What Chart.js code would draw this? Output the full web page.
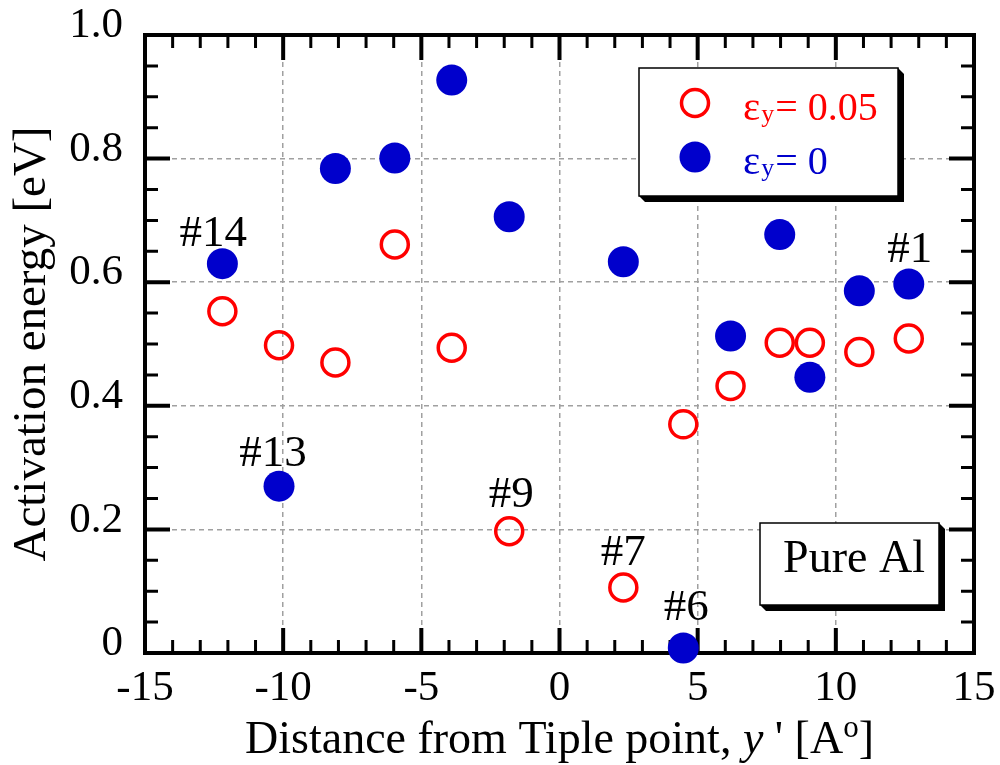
<!DOCTYPE html>
<html>
<head>
<meta charset="utf-8">
<script src="https://cdn.jsdelivr.net/npm/chart.js@4"></script>
<style>
  body { margin: 0; background: #fff; }
  #wrap { width: 1000px; height: 765px; }
</style>
</head>
<body>
<div id="wrap"><canvas id="chart"></canvas></div>
<script>
// distance from triple point y' [A], shared by both series
const positions = [-12.2, -10.15, -8.11, -5.96, -3.9, -1.82, 2.31, 4.48, 6.19, 7.97, 9.06, 10.85, 12.64];
// activation energy [eV], strain eps_y = 0.05 (open red)
const energyStrained = [0.553, 0.498, 0.470, 0.661, 0.494, 0.197, 0.106, 0.370, 0.432, 0.502, 0.502, 0.487, 0.509];
// activation energy [eV], eps_y = 0 (filled blue)
const energyRelaxed = [0.630, 0.270, 0.784, 0.801, 0.927, 0.706, 0.633, 0.008, 0.513, 0.677, 0.446, 0.586, 0.597];

const xTickLabels = ['-15', '-10', '-5', '0', '5', '10', '15'];
const yTickLabels = ['0', '0.2', '0.4', '0.6', '0.8', '1.0'];

// site numbers written next to some points
const tagTexts = ['#14', '#13', '#9', '#7', '#6', '#1'];
const tagSeries = [1, 1, 0, 0, 1, 1];
const tagIndex = [0, 1, 5, 6, 7, 12];

const RED = '#ff0000';
const BLUE = '#0000cc';
const SERIF = '"Liberation Serif", "Times New Roman", serif';

// small pixel nudges for the tags, in the order above
const tagShift = [[-9, -18], [-6, -20], [2, -24], [0, -22], [3, -28], [1, -22]];

function shadowBox(ctx, x, y, w, h) {
    const d = 6;
    ctx.fillStyle = '#000';
    ctx.beginPath();
    ctx.moveTo(x + w, y);
    ctx.lineTo(x + w + d, y + d);
    ctx.lineTo(x + w + d, y + h + d);
    ctx.lineTo(x + d, y + h + d);
    ctx.lineTo(x, y + h);
    ctx.closePath();
    ctx.fill();
    ctx.fillStyle = '#fff';
    ctx.fillRect(x, y, w, h);
    ctx.lineWidth = 1.5;
    ctx.strokeStyle = '#000';
    ctx.strokeRect(x, y, w, h);
}

const frameAndTicks = {
    id: 'frameAndTicks',
    beforeDatasetsDraw(chart) {
        const {ctx, chartArea: a, scales: {x, y}} = chart;
        ctx.save();
        ctx.strokeStyle = '#000';
        for (let v = x.min; v <= x.max; v++) {
            const px = x.getPixelForValue(v);
            const major = v % 5 === 0;
            const len = major ? 25 : 13;
            ctx.lineWidth = major ? 4 : 3;
            ctx.beginPath();
            ctx.moveTo(px, a.bottom);
            ctx.lineTo(px, a.bottom - len);
            ctx.moveTo(px, a.top);
            ctx.lineTo(px, a.top + len);
            ctx.stroke();
        }
        for (let i = 0; i <= 20; i++) {
            const py = y.getPixelForValue(i * 0.05);
            const major = i % 4 === 0;
            const len = major ? 25 : 13;
            ctx.lineWidth = major ? 4 : 3;
            ctx.beginPath();
            ctx.moveTo(a.left, py);
            ctx.lineTo(a.left + len, py);
            ctx.moveTo(a.right, py);
            ctx.lineTo(a.right - len, py);
            ctx.stroke();
        }
        ctx.lineWidth = 4;
        ctx.strokeRect(a.left, a.top, a.right - a.left, a.bottom - a.top);
        ctx.restore();
    }
};

const boxesAndTags = {
    id: 'boxesAndTags',
    afterDatasetsDraw(chart) {
        const {ctx, scales: {x, y}} = chart;
        ctx.save();

        // legend
        shadowBox(ctx, 639, 68, 259, 128);
        const rows = [
            {cy: 103, base: 120, color: RED, open: true, value: '= 0.05'},
            {cy: 157, base: 174, color: BLUE, open: false, value: '= 0'}
        ];
        rows.forEach(r => {
            ctx.beginPath();
            if (r.open) {
                ctx.arc(695, r.cy, 13.5, 0, Math.PI * 2);
                ctx.lineWidth = 3.5;
                ctx.strokeStyle = r.color;
                ctx.stroke();
            } else {
                ctx.arc(695, r.cy, 15.5, 0, Math.PI * 2);
                ctx.fillStyle = r.color;
                ctx.fill();
            }
            ctx.fillStyle = r.color;
            ctx.textBaseline = 'alphabetic';
            ctx.textAlign = 'left';
            let tx = 743;
            ctx.font = '41px ' + SERIF;
            ctx.fillText('\u03b5', tx, r.base);
            tx += ctx.measureText('\u03b5').width + 1;
            ctx.font = '26px ' + SERIF;
            ctx.fillText('y', tx, r.base + 2);
            tx += ctx.measureText('y').width + 1;
            ctx.font = '40px ' + SERIF;
            ctx.fillText(r.value, tx, r.base);
        });

        // material box
        shadowBox(ctx, 760, 523, 179, 82);
        ctx.fillStyle = '#000';
        ctx.font = '46px ' + SERIF;
        ctx.textAlign = 'center';
        ctx.fillText('Pure Al', 854, 572);

        // site tags
        ctx.font = '45px ' + SERIF;
        tagTexts.forEach((t, i) => {
            const vals = tagSeries[i] === 0 ? energyStrained : energyRelaxed;
            const k = tagIndex[i];
            const px = x.getPixelForValue(positions[k]) + tagShift[i][0];
            const py = y.getPixelForValue(vals[k]) + tagShift[i][1];
            ctx.fillText(t, px, py);
        });
        ctx.restore();
    },
    afterDraw(chart) {
        // x axis title with italic y and superscript o
        const {ctx, chartArea: a} = chart;
        const parts = [
            ['Distance from Tiple point, ', 'normal', 0],
            ['y', 'italic', 0],
            [" ' [A", 'normal', 0],
            ['o', 'sup', -16],
            [']', 'normal', 0]
        ];
        const fontOf = s => s === 'italic' ? 'italic 46px ' + SERIF : s === 'sup' ? '31px ' + SERIF : '46px ' + SERIF;
        ctx.save();
        ctx.fillStyle = '#000';
        ctx.textBaseline = 'alphabetic';
        ctx.textAlign = 'left';
        let total = 0;
        parts.forEach(p => { ctx.font = fontOf(p[1]); total += ctx.measureText(p[0]).width; });
        let tx = (a.left + a.right) / 2 - total / 2;
        parts.forEach(p => {
            ctx.font = fontOf(p[1]);
            ctx.fillText(p[0], tx, 753 + p[2]);
            tx += ctx.measureText(p[0]).width;
        });
        ctx.restore();
    }
};

const ctx = document.getElementById('chart').getContext('2d');

new Chart(ctx, {
    type: 'scatter',
    data: {
        datasets: [{
            label: '\u03b5y = 0.05',
            data: positions.map((p, i) => ({x: p, y: energyStrained[i]})),
            pointStyle: 'circle',
            pointRadius: 13.5,
            pointBorderWidth: 3.5,
            pointBorderColor: RED,
            pointBackgroundColor: 'rgba(0,0,0,0)',
            clip: false
        }, {
            label: '\u03b5y = 0',
            data: positions.map((p, i) => ({x: p, y: energyRelaxed[i]})),
            pointStyle: 'circle',
            pointRadius: 15.5,
            pointBorderWidth: 0,
            pointBorderColor: BLUE,
            pointBackgroundColor: BLUE,
            clip: false
        }]
    },
    options: {
        responsive: true,
        maintainAspectRatio: false,
        animation: false,
        events: [],
        layout: {padding: {top: 35, right: 26, bottom: 0, left: 0}},
        plugins: {
            legend: {display: false},
            tooltip: {enabled: false}
        },
        scales: {
            x: {
                type: 'linear',
                min: -15,
                max: 15,
                afterFit: s => {
                    s.height = 112;
                    s.paddingLeft = 0;
                    s.paddingRight = 0;
                },
                ticks: {
                    stepSize: 5,
                    autoSkip: false,
                    maxRotation: 0,
                    padding: 10,
                    color: '#000',
                    font: {family: SERIF, size: 43},
                    callback: (v, i) => xTickLabels[i]
                },
                grid: {color: '#a0a0a0', lineWidth: 1.5, drawTicks: false},
                border: {display: false, dash: [5, 4]}
            },
            y: {
                min: 0,
                max: 1,
                afterFit: s => {
                    s.width = 145;
                    s.paddingTop = 0;
                    s.paddingBottom = 0;
                },
                title: {
                    display: true,
                    text: 'Activation energy [eV]',
                    color: '#000',
                    font: {family: SERIF, size: 47},
                    padding: {top: 4, bottom: 0}
                },
                ticks: {
                    stepSize: 0.2,
                    padding: 22,
                    labelOffset: -9,
                    color: '#000',
                    font: {family: SERIF, size: 43},
                    callback: (v, i) => yTickLabels[i]
                },
                grid: {color: '#a0a0a0', lineWidth: 1.5, drawTicks: false},
                border: {display: false, dash: [5, 4]}
            }
        }
    },
    plugins: [frameAndTicks, boxesAndTags]
});
</script>
</body>
</html>
